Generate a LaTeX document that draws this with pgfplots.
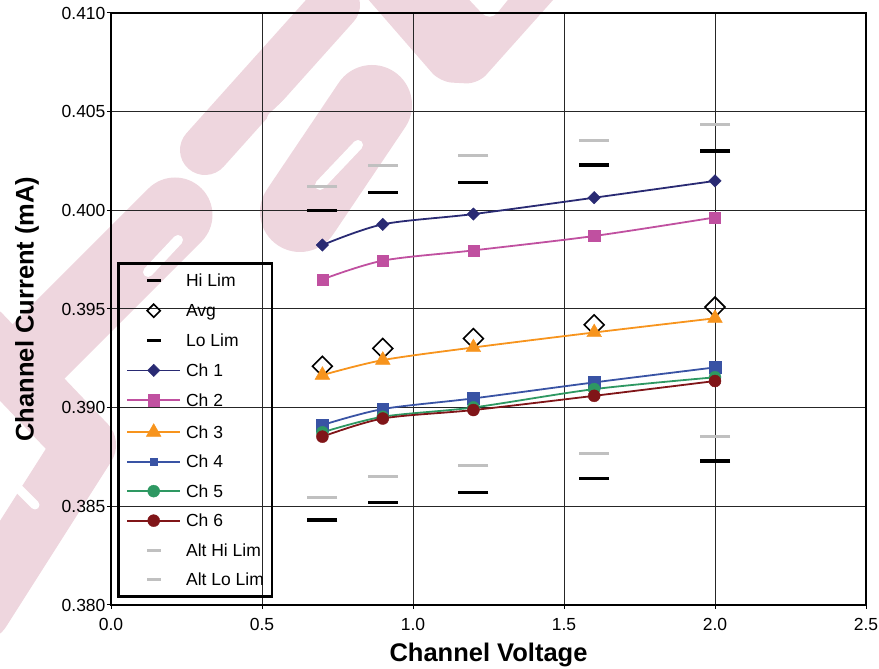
\documentclass[border=0pt]{standalone}
\usepackage{pgfplots}
\pgfplotsset{compat=1.18}
\usepackage{fontspec}
\setmainfont{Liberation Sans}
\definecolor{cA}{RGB}{41,42,115}
\definecolor{cB}{RGB}{192,80,160}
\definecolor{cC}{RGB}{247,148,29}
\definecolor{cD}{RGB}{57,83,164}
\definecolor{cE}{RGB}{46,152,98}
\definecolor{cF}{RGB}{128,21,24}
\definecolor{limgray}{RGB}{192,192,192}
\definecolor{wmpink}{RGB}{238,214,222}
\begin{document}
\begin{tikzpicture}
% watermark (behind the chart)
\begin{scope}
\clip (0pt,0pt) rectangle (879pt,669pt);
\begin{scope}[x=1pt,y=-1pt,shift={(0pt,669pt)}]
\fill[wmpink, rounded corners=12pt] (360,-10) -- (440,82) -- (478,84) -- (562,-10) -- (516,-10) -- (490,22) -- (460,-10) -- cycle;
\draw[wmpink, line width=80pt, line cap=round] (372,105) -- (300,212);
\draw[wmpink, line width=50pt, line cap=round] (335,5) -- (205,150);
\draw[wmpink, line width=75pt, line cap=round] (175,215) -- (25,365);
\draw[wmpink, line width=62pt, line cap=round, line join=round] (-20,335) -- (85,445) -- (-20,610);
\draw[white, line width=10pt, line cap=round] (358,145) -- (320,185);
\draw[white, line width=10pt, line cap=round] (355,40) -- (272,118);
\draw[white, line width=10pt, line cap=round] (178,240) -- (148,272);
\draw[white, line width=9pt, line cap=round] (0,470) -- (35,505);
\end{scope}
\end{scope}
\begin{axis}[
  at={(111pt,64pt)}, anchor=south west,
  scale only axis, width=755pt, height=592pt,
  xmin=0, xmax=2.5, ymin=0.380, ymax=0.410,
  xtick={0,0.5,1,1.5,2,2.5},
  xticklabels={0.0,0.5,1.0,1.5,2.0,2.5},
  ytick={0.380,0.385,0.390,0.395,0.400,0.405,0.410},
  yticklabels={0.380,0.385,0.390,0.395,0.400,0.405,0.410},
  xtick pos=bottom, ytick pos=left,
  grid=major, major grid style={black!85, line width=1pt},
  axis line style={line width=2.5pt},
  tick align=outside, major tick length=4pt,
  tick style={black, line width=1pt},
  tick label style={font=\fontsize{17.5}{20}\selectfont},
  xticklabel style={yshift=-6pt},
  yticklabel style={xshift=2pt},
  xlabel={Channel Voltage}, ylabel={Channel Current (mA)},
  label style={font=\fontsize{25.5}{30}\selectfont\bfseries},
  xlabel shift=5pt, ylabel shift=16pt,
  legend style={at={(0.008,0.012)}, anchor=south west, draw=black, line width=2.5pt, fill=none,
    font=\fontsize{17.5}{20}\selectfont, inner xsep=8pt, inner ysep=11pt,
    nodes={inner sep=0pt, text height=12pt, text depth=0pt},
    row sep=17.5pt, column sep=5pt},
  legend cell align=left,
  legend image code/.code={\draw[mark repeat=2,mark phase=2,#1] plot coordinates {(0pt,0pt) (26.5pt,0pt) (53pt,0pt)};},
]
% Hi Lim
\addplot[only marks, black, mark=-, mark size=15pt, mark options={line width=3.5pt}, legend image post style={mark size=7pt}]
coordinates {(0.7,0.4000) (0.9,0.4009) (1.2,0.4014) (1.6,0.4023) (2.0,0.4030)};
\addlegendentry{Hi Lim}
% Avg
\addplot[only marks, black, mark=square, mark size=7pt, mark options={rotate=45, line width=1.6pt, fill=white}, legend image post style={mark size=4.6pt}]
coordinates {(0.7,0.3921) (0.9,0.3930) (1.2,0.3935) (1.6,0.3942) (2.0,0.3951)};
\addlegendentry{Avg}
% Lo Lim
\addplot[only marks, black, mark=-, mark size=15pt, mark options={line width=3.5pt}, legend image post style={mark size=7pt}]
coordinates {(0.7,0.3843) (0.9,0.3852) (1.2,0.3857) (1.6,0.3864) (2.0,0.3873)};
\addlegendentry{Lo Lim}
% Ch 1
\addplot[cA, line width=1.8pt, smooth, mark=square*, mark size=4.4pt, mark options={rotate=45, solid, line width=0.4pt, fill=cA}]
coordinates {(0.7,0.39824) (0.9,0.39929) (1.2,0.39981) (1.6,0.40064) (2.0,0.40149)};
\addlegendentry{Ch 1}
% Ch 2
\addplot[cB, line width=1.8pt, smooth, mark=square*, mark size=5.6pt, mark options={solid, line width=0.4pt, fill=cB}]
coordinates {(0.7,0.39650) (0.9,0.39745) (1.2,0.39797) (1.6,0.39870) (2.0,0.39964)};
\addlegendentry{Ch 2}
% Ch 3
\addplot[cC, line width=1.8pt, smooth, mark=triangle*, mark size=8.5pt, mark options={solid, line width=0.4pt, fill=cC}]
coordinates {(0.7,0.39165) (0.9,0.39241) (1.2,0.39305) (1.6,0.39381) (2.0,0.39453)};
\addlegendentry{Ch 3}
% Ch 4
\addplot[cD, line width=1.8pt, smooth, mark=square*, mark size=5.8pt, mark options={solid, line width=0.4pt, fill=cD}, legend image post style={mark size=3.6pt}]
coordinates {(0.7,0.38912) (0.9,0.38993) (1.2,0.39047) (1.6,0.39128) (2.0,0.39204)};
\addlegendentry{Ch 4}
% Ch 5
\addplot[cE, line width=1.8pt, smooth, mark=*, mark size=6pt, mark options={solid, line width=0.4pt, fill=cE}]
coordinates {(0.7,0.38875) (0.9,0.38954) (1.2,0.39001) (1.6,0.39094) (2.0,0.39154)};
\addlegendentry{Ch 5}
% Ch 6
\addplot[cF, line width=1.8pt, smooth, mark=*, mark size=6pt, mark options={solid, line width=0.4pt, fill=cF}]
coordinates {(0.7,0.38853) (0.9,0.38945) (1.2,0.38988) (1.6,0.39060) (2.0,0.39135)};
\addlegendentry{Ch 6}
% Alt Hi Lim
\addplot[only marks, limgray, mark=-, mark size=15pt, mark options={line width=3pt}, legend image post style={mark size=7pt}]
coordinates {(0.7,0.40123) (0.9,0.40228) (1.2,0.40280) (1.6,0.40353) (2.0,0.40437)};
\addlegendentry{Alt Hi Lim}
% Alt Lo Lim
\addplot[only marks, limgray, mark=-, mark size=15pt, mark options={line width=3pt}, legend image post style={mark size=7pt}]
coordinates {(0.7,0.38547) (0.9,0.38652) (1.2,0.38706) (1.6,0.38766) (2.0,0.38853)};
\addlegendentry{Alt Lo Lim}
\end{axis}
\pgfresetboundingbox
\path (0pt,0pt) rectangle (879pt,669pt);
\end{tikzpicture}
\end{document}
